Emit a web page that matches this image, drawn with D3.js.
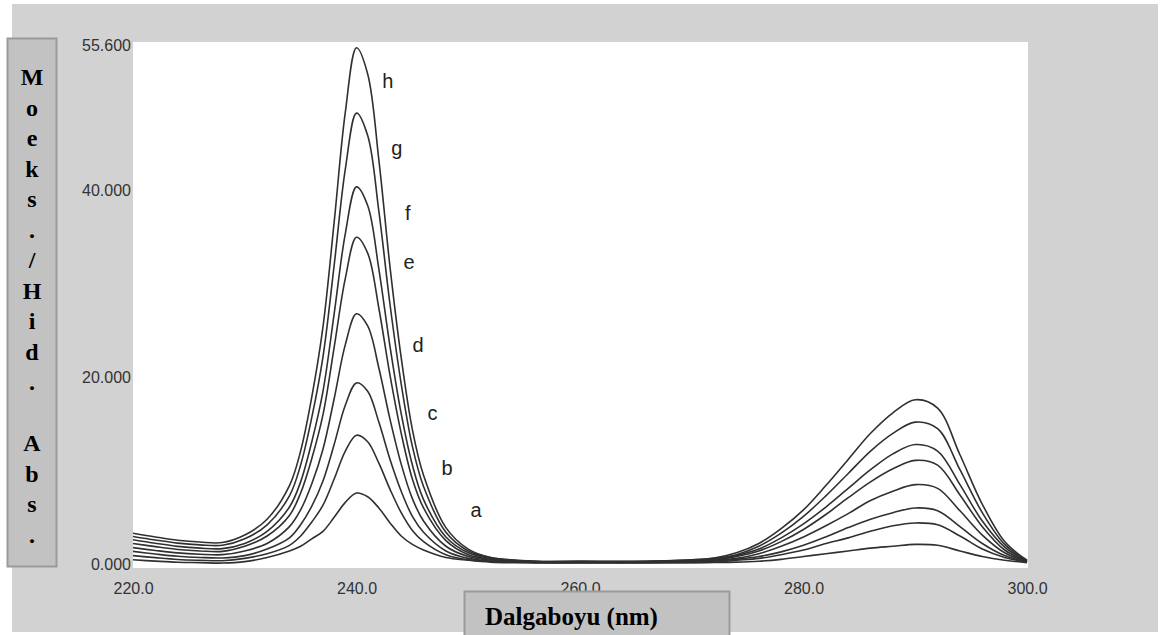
<!DOCTYPE html>
<html lang="en">
    <head>
        <meta charset="UTF-8" />
        <title>Absorption spectra a-h</title>
        <script src="https://d3js.org/d3.v7.min.js"></script>
        <style>
            body {
                margin: 0;
                background: #fff;
            }

            .curve {
                fill: none;
                stroke: #303030;
                stroke-width: 1.6px;
            }

            .tick text {
                font-family: 'Liberation Sans', Arial, sans-serif;
                font-size: 16px;
                fill: #333;
            }

            .curve-label {
                font-family: 'Liberation Sans', Arial, sans-serif;
                font-size: 20px;
                fill: #222;
            }

            .axis-title {
                font-family: 'Liberation Serif', 'Times New Roman', serif;
                font-weight: bold;
                fill: #000;
            }
        </style>
    </head>
    <body>
        <svg width="1164" height="635"></svg>

        <script>
            // wavelength grid (nm)
            const wavelengths = [
                220, 222, 224, 226, 228, 230, 232, 234, 235, 236, 237, 238, 239, 240, 241, 242, 243, 244, 245, 246, 248,
                250, 252, 256, 260, 266, 272, 274, 276, 278, 280, 282, 284, 286, 288, 290, 292, 294, 296, 298, 300,
            ];

            // absorbance, one list per curve
            const curveA = [
                0.45, 0.31, 0.19, 0.15, 0.1, 0.25, 0.7, 1.4, 1.9, 2.7, 3.5, 5.0, 6.6, 7.6, 7.2, 6.0, 4.4, 3.0, 2.1, 1.5, 0.7,
                0.4, 0.2, 0.12, 0.12, 0.12, 0.16, 0.2, 0.3, 0.5, 0.8, 1.1, 1.4, 1.7, 1.9, 2.1, 2.0, 1.4, 0.8, 0.4, 0.15,
            ];
            const curveB = [
                0.9, 0.68, 0.49, 0.4, 0.35, 0.6, 1.1, 2.0, 3.0, 4.5, 6.3, 9.1, 12.1, 13.8, 13.1, 10.8, 8.0, 5.5, 3.6, 2.4, 1.0,
                0.45, 0.3, 0.15, 0.15, 0.15, 0.2, 0.4, 0.6, 1.0, 1.5, 2.2, 2.8, 3.5, 4.1, 4.4, 4.2, 3.0, 1.6, 0.7, 0.2,
            ];
            const curveC = [
                1.35, 1.07, 0.83, 0.7, 0.65, 0.9, 1.6, 2.8, 4.2, 6.2, 8.9, 12.8, 17.0, 19.4, 18.5, 15.2, 11.2, 7.8, 5.1, 3.4,
                1.4, 0.6, 0.3, 0.18, 0.18, 0.18, 0.3, 0.5, 0.8, 1.3, 2.0, 2.9, 3.9, 4.8, 5.5, 6.0, 5.7, 4.0, 2.2, 0.9, 0.2,
            ];
            const curveD = [
                1.75, 1.45, 1.19, 1.05, 1.0, 1.4, 2.2, 4.0, 5.8, 8.6, 12.3, 17.7, 23.5, 26.8, 25.5, 21.0, 15.5, 10.7, 7.0, 4.6,
                1.9, 0.8, 0.4, 0.2, 0.2, 0.2, 0.4, 0.6, 1.1, 1.9, 2.9, 4.1, 5.4, 6.8, 7.8, 8.5, 8.1, 5.7, 3.1, 1.2, 0.25,
            ];
            const curveE = [
                2.2, 1.86, 1.56, 1.4, 1.35, 1.9, 3.0, 5.2, 7.6, 11.3, 16.0, 23.2, 30.6, 35.0, 33.3, 27.4, 20.2, 14.0, 9.1, 6.0,
                2.5, 1.0, 0.5, 0.22, 0.22, 0.22, 0.4, 0.8, 1.4, 2.4, 3.7, 5.3, 7.1, 8.8, 10.2, 11.1, 10.6, 7.4, 4.0, 1.5, 0.25,
            ];
            const curveF = [
                2.6, 2.22, 1.89, 1.7, 1.65, 2.2, 3.5, 6.1, 8.8, 13.1, 18.5, 26.8, 35.4, 40.4, 38.4, 31.6, 23.3, 16.1, 10.6, 6.9,
                2.9, 1.2, 0.6, 0.25, 0.25, 0.25, 0.5, 0.9, 1.6, 2.8, 4.3, 6.1, 8.1, 10.1, 11.8, 12.8, 12.1, 8.5, 4.6, 1.8, 0.3,
            ];
            const curveG = [
                2.95, 2.57, 2.24, 2.05, 2.0, 2.7, 4.2, 7.3, 10.6, 15.7, 22.2, 32.0, 42.3, 48.3, 45.9, 37.8, 27.8, 19.3, 12.6,
                8.3, 3.4, 1.4, 0.7, 0.28, 0.28, 0.28, 0.6, 1.0, 1.9, 3.3, 5.1, 7.3, 9.7, 12.1, 14.0, 15.2, 14.5, 10.1, 5.5, 2.1,
                0.35,
            ];
            const curveH = [
                3.3, 2.9, 2.55, 2.35, 2.3, 3.1, 4.8, 8.4, 12.1, 17.9, 25.4, 36.6, 48.4, 55.3, 52.5, 43.3, 31.8, 22.1, 14.4, 9.5,
                3.9, 1.6, 0.7, 0.3, 0.3, 0.3, 0.65, 1.2, 2.2, 3.8, 5.8, 8.4, 11.2, 14.0, 16.2, 17.6, 16.7, 11.7, 6.4, 2.4, 0.4,
            ];

            const curveNames = ['a', 'b', 'c', 'd', 'e', 'f', 'g', 'h'];
            const curveValues = [curveA, curveB, curveC, curveD, curveE, curveF, curveG, curveH];

            // where each letter sits, in chart units (nm, absorbance)
            const labelWavelength = [250.7, 248.1, 246.8, 245.5, 244.7, 244.6, 243.6, 242.8];
            const labelValue = [5.8, 10.3, 16.2, 23.5, 32.3, 37.6, 44.6, 51.7];

            const xTicks = [220, 240, 260, 280, 300];
            const yTicks = [0, 20, 40, 55.6];

            const yTitle = ['M', 'o', 'e', 'k', 's', '.', '/', 'H', 'i', 'd', '.', '', 'A', 'b', 's', '.'];
            const xTitle = 'Dalgaboyu (nm)';

            const svg = d3.select('svg');

            const x = d3.scaleLinear().domain([220, 300]).range([133, 1027]);
            const y = d3.scaleLinear().domain([0, 55.6]).range([564, 45]);

            // grey frame and white plot area
            svg.append('rect').attr('x', 12).attr('y', 4).attr('width', 1146).attr('height', 628).attr('fill', '#d2d2d2');
            svg.append('rect').attr('x', 133).attr('y', 42).attr('width', 895).attr('height', 526).attr('fill', '#fff');

            svg.append('clipPath')
                .attr('id', 'plot-clip')
                .append('rect')
                .attr('x', 133)
                .attr('y', 42)
                .attr('width', 895)
                .attr('height', 526);

            const line = d3
                .line()
                .x((d) => x(d.wl))
                .y((d) => y(d.v))
                .curve(d3.curveCatmullRom.alpha(0.5));

            const series = curveValues.map((vals, i) => ({
                name: curveNames[i],
                points: vals.map((v, j) => ({ wl: wavelengths[j], v })),
            }));

            svg.append('g')
                .attr('clip-path', 'url(#plot-clip)')
                .selectAll('path')
                .data(series)
                .join('path')
                .attr('class', 'curve')
                .attr('d', (d) => line(d.points));

            svg.append('g')
                .selectAll('text')
                .data(curveNames)
                .join('text')
                .attr('class', 'curve-label')
                .attr('x', (d, i) => x(labelWavelength[i]))
                .attr('y', (d, i) => y(labelValue[i]))
                .attr('text-anchor', 'middle')
                .attr('dominant-baseline', 'central')
                .text((d) => d);

            // tick labels only, no axis lines
            const yAxis = svg
                .append('g')
                .attr('transform', 'translate(131,0)')
                .call(d3.axisLeft(y).tickValues(yTicks).tickFormat(d3.format('.3f')).tickSize(0).tickPadding(0));
            yAxis.select('.domain').remove();

            const xAxis = svg
                .append('g')
                .attr('transform', 'translate(0,568)')
                .call(d3.axisBottom(x).tickValues(xTicks).tickFormat(d3.format('.1f')).tickSize(0).tickPadding(15));
            xAxis.select('.domain').remove();

            // y title box, one character per line
            svg.append('rect')
                .attr('x', 7.5)
                .attr('y', 38.5)
                .attr('width', 49)
                .attr('height', 528)
                .attr('fill', '#c2c2c2')
                .attr('stroke', '#9a9a9a')
                .attr('stroke-width', 2);

            svg.append('g')
                .selectAll('text')
                .data(yTitle)
                .join('text')
                .attr('class', 'axis-title')
                .attr('x', 32)
                .attr('y', (d, i) => 85 + i * 30.5)
                .attr('text-anchor', 'middle')
                .style('font-size', '24px')
                .text((d) => d);

            // x title box, runs off the bottom edge
            svg.append('rect')
                .attr('x', 464.5)
                .attr('y', 591.5)
                .attr('width', 265)
                .attr('height', 60)
                .attr('fill', '#c2c2c2')
                .attr('stroke', '#9a9a9a')
                .attr('stroke-width', 2);

            svg.append('text')
                .attr('class', 'axis-title')
                .attr('x', 485)
                .attr('y', 625)
                .style('font-size', '25px')
                .text(xTitle);
        </script>
    </body>
</html>
